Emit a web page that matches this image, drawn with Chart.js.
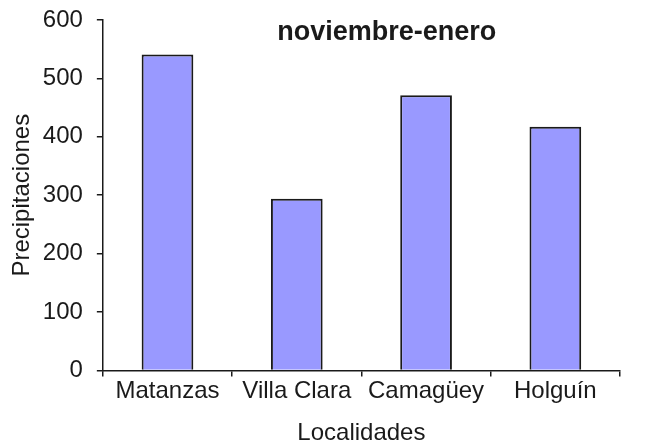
<!DOCTYPE html>
<html>
<head>
<meta charset="utf-8">
<script src="https://cdn.jsdelivr.net/npm/chart.js@4"></script>
<style>
  body { margin: 0; background: #fff; }
</style>
</head>
<body>
<canvas id="myChart" width="649" height="446"></canvas>
<script>
var localidades = ['Matanzas', 'Villa Clara', 'Camagüey', 'Holguín'];
var precipitaciones = [541, 294, 471, 417];
var tituloTexto = 'noviembre-enero';
var ejeY = 'Precipitaciones';
var ejeX = 'Localidades';

var fuente = '"Liberation Sans", Arial, sans-serif';

// titulo dentro del area del grafico, algo a la derecha del centro
var tituloPlugin = {
  id: 'tituloInterior',
  afterDraw: function (chart) {
    var ctx = chart.ctx;
    var area = chart.chartArea;
    ctx.save();
    ctx.font = 'bold 27px ' + fuente;
    ctx.fillStyle = '#1a1a1a';
    ctx.textAlign = 'center';
    ctx.textBaseline = 'alphabetic';
    ctx.fillText(tituloTexto, area.left + (area.right - area.left) * 0.549, area.top + 20);
    ctx.restore();
  }
};

var ctx = document.getElementById('myChart').getContext('2d');
var grafico = new Chart(ctx, {
  type: 'bar',
  data: {
    labels: localidades,
    datasets: [{
      label: tituloTexto,
      data: precipitaciones,
      backgroundColor: '#9999ff',
      borderColor: '#1a1a1a',
      borderWidth: 2,
      barPercentage: 0.4,
      categoryPercentage: 1
    }]
  },
  options: {
    responsive: false,
    animation: false,
    layout: {
      padding: { top: 2, right: 29, left: 8, bottom: -2 }
    },
    plugins: {
      legend: { display: false },
      tooltip: { enabled: false }
    },
    scales: {
      x: {
        grid: {
          display: true,
          drawOnChartArea: false,
          offset: true,
          tickLength: 6,
          color: '#1a1a1a',
          lineWidth: 1.5
        },
        border: { color: '#1a1a1a', width: 1.5 },
        ticks: {
          color: '#1a1a1a',
          font: { family: fuente, size: 24 },
          padding: 1,
          maxRotation: 0
        },
        title: {
          display: true,
          text: ejeX,
          color: '#1a1a1a',
          font: { family: fuente, size: 24 },
          padding: { top: 12, bottom: 0 }
        }
      },
      y: {
        min: 0,
        max: 600,
        grid: {
          display: true,
          drawOnChartArea: false,
          tickLength: 6,
          color: '#1a1a1a',
          lineWidth: 1.5
        },
        border: { color: '#1a1a1a', width: 1.5 },
        ticks: {
          stepSize: 100,
          color: '#1a1a1a',
          font: { family: fuente, size: 24, lineHeight: 0.5 },
          padding: 14
        },
        title: {
          display: true,
          text: ejeY,
          color: '#1a1a1a',
          font: { family: fuente, size: 24 },
          padding: { top: 0, bottom: -8 }
        }
      }
    }
  },
  plugins: [tituloPlugin]
});
</script>
</body>
</html>
